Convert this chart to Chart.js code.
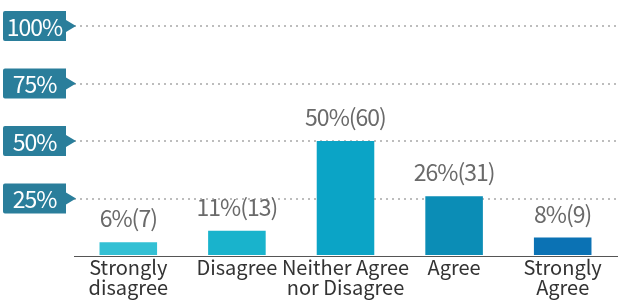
<!DOCTYPE html>
<html lang="en">
  <head>
    <meta charset="UTF-8" />
    <title>Agreement Survey</title>
    <script src="https://cdn.jsdelivr.net/npm/chart.js"></script>
    <style>
      html, body { margin: 0; padding: 0; background: #fff; }
      #wrap { width: 619px; height: 300px; }
    </style>
  </head>
  <body>
    <div id="wrap"><canvas id="surveyChart"></canvas></div>

    <script>
      const categories = [
        ["Strongly", "disagree"],
        "Disagree",
        ["Neither Agree", "nor Disagree"],
        "Agree",
        ["Strongly", "Agree"],
      ];
      const percents = [6, 11, 50, 26, 8];
      const counts = [7, 13, 60, 31, 9];
      const yTickValues = [25, 50, 75, 100];
      const yTickLabels = ["25%", "50%", "75%", "100%"];
      const barColors = ["#33c0d4", "#19b3cc", "#0ba4c6", "#0b8db6", "#0b72b4"];

      const FONT = "'Noto Sans CJK KR', 'Noto Sans', sans-serif";

      // draws the teal callout tags on the y axis and the value labels
      const tagPlugin = {
        id: "tags",
        beforeDatasetsDraw(chart) {
          const ctx = chart.ctx;
          const y = chart.scales.y;
          ctx.save();
          yTickValues.forEach((v, i) => {
            const py = y.getPixelForValue(v);
            const x0 = 3, x1 = 66, h = 30;
            ctx.fillStyle = "#2a7e9b";
            ctx.beginPath();
            ctx.moveTo(x0 + 2, py - h / 2);
            ctx.lineTo(x1, py - h / 2);
            ctx.lineTo(x1, py - 6);
            ctx.lineTo(x1 + 10, py);
            ctx.lineTo(x1, py + 6);
            ctx.lineTo(x1, py + h / 2);
            ctx.lineTo(x0 + 2, py + h / 2);
            ctx.quadraticCurveTo(x0, py + h / 2, x0, py + h / 2 - 2);
            ctx.lineTo(x0, py - h / 2 + 2);
            ctx.quadraticCurveTo(x0, py - h / 2, x0 + 2, py - h / 2);
            ctx.fill();
            ctx.fillStyle = "#ffffff";
            ctx.font = "23px " + FONT;
            ctx.letterSpacing = "-1px";
            ctx.textAlign = "center";
            ctx.textBaseline = "middle";
            ctx.fillText(yTickLabels[i], (x0 + x1) / 2, py + 1);
          });
          ctx.restore();
        },
        afterDatasetsDraw(chart) {
          const ctx = chart.ctx;
          const meta = chart.getDatasetMeta(0);
          ctx.save();
          ctx.fillStyle = "#6a6a6a";
          ctx.font = "23px " + FONT;
          ctx.letterSpacing = "-1px";
          ctx.textAlign = "center";
          ctx.textBaseline = "bottom";
          meta.data.forEach((bar, i) => {
            ctx.fillText(percents[i] + "%(" + counts[i] + ")", bar.x, bar.y - 12);
          });
          ctx.restore();
        },
      };

      new Chart(document.getElementById("surveyChart"), {
        type: "bar",
        data: {
          labels: categories,
          datasets: [
            {
              data: percents,
              backgroundColor: barColors,
              borderWidth: 0,
              categoryPercentage: 1,
              barPercentage: 0.53,
            },
          ],
        },
        options: {
          responsive: true,
          maintainAspectRatio: false,
          animation: false,
          layout: { padding: { top: 26, right: 2, left: 0, bottom: 0 } },
          plugins: { legend: { display: false }, tooltip: { enabled: false } },
          scales: {
            x: {
              grid: { display: false, drawTicks: false },
              border: { display: true, color: "#555555", width: 1 },
              ticks: {
                color: "#333333",
                padding: 1,
                maxRotation: 0,
                autoSkip: false,
                font: { family: FONT, size: 20, lineHeight: 1.0 },
              },
              afterFit(scale) {
                scale.height = 44;
              },
            },
            y: {
              min: 0,
              max: 100,
              afterBuildTicks(scale) {
                scale.ticks = [0].concat(yTickValues).map((v) => ({ value: v }));
              },
              ticks: { display: false },
              grid: {
                drawTicks: false,
                color: (c) => (c.tick.value === 0 ? "rgba(0,0,0,0)" : "#bdbdbd"),
                lineWidth: 2,
              },
              border: { display: false, dash: [2, 4] },
              afterFit(scale) {
                scale.width = 74;
              },
            },
          },
        },
        plugins: [tagPlugin],
      });
    </script>
  </body>
</html>
